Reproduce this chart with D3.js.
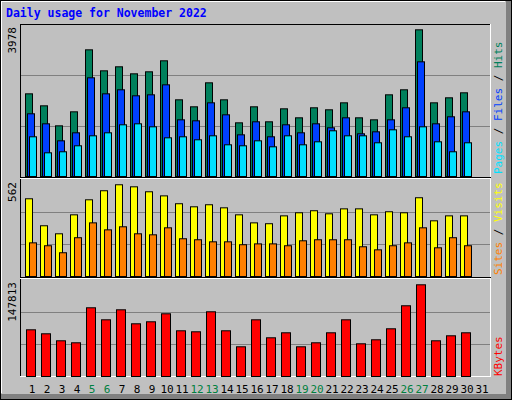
<!DOCTYPE html>
<html><head><meta charset="utf-8">
<script src="https://cdn.jsdelivr.net/npm/d3@7"></script>
<style>body{margin:0;background:#fff}</style></head><body>
<script>
const days = d3.range(1, 32);
const weekendDays = [5,6,12,13,19,20,26,27];
const hits  = [2178,1862,1335,1704,3337,2784,2890,2705,2758,3048,2020,1836,2468,2020,1414,1836,1441,1783,1546,1810,1757,1941,1546,1493,2152,2284,3864,1941,2073,2205];
const files = [1652,1388,940,1151,2600,2178,2284,2126,2152,2415,1493,1467,1941,1625,1098,1441,1046,1362,1151,1388,1283,1546,1125,1177,1493,1810,3021,1388,1573,1704];
const pages = [1046,624,651,809,1072,1151,1362,1388,1309,1019,1046,967,1072,835,809,940,782,1072,835,914,1204,1072,1072,888,1230,1046,1309,914,651,888];
const visits = [455,297,250,361,449,502,537,525,496,472,426,408,420,402,361,314,309,355,373,385,367,396,396,361,379,373,461,326,355,355];
const sites  = [197,180,139,227,314,273,291,250,244,285,221,215,203,203,186,191,191,180,209,215,215,215,174,156,180,197,285,168,227,180];
const kbytes = [71900,65760,54980,51900,105800,87300,102700,81160,84240,96560,70380,68840,99640,70380,45740,87300,59600,67300,45740,51900,67300,87300,50360,56520,73460,108900,141200,54980,62680,67300];
const maxHits = 3978, maxVisits = 562, maxKB = 147813;

const W=512,H=400;
const svg=d3.select("body").append("svg").attr("width",W).attr("height",H);
const font="DejaVu Sans Mono";
svg.append("rect").attr("x",0).attr("y",0).attr("width",W).attr("height",H).attr("fill","#c0c0c0");
svg.append("rect").attr("x",506).attr("y",1).attr("width",5).attr("height",H-2).attr("fill","#808080");
svg.append("rect").attr("x",1).attr("y",394).attr("width",W-2).attr("height",5).attr("fill","#808080");
svg.append("rect").attr("x",0.5).attr("y",0.5).attr("width",W-1).attr("height",H-1).attr("fill","none").attr("stroke","#000");
svg.append("line").attr("x1",1).attr("y1",1.5).attr("x2",505).attr("y2",1.5).attr("stroke","#fff");
svg.append("line").attr("x1",1.5).attr("y1",1).attr("x2",1.5).attr("y2",393).attr("stroke","#fff");

svg.append("text").attr("x",6).attr("y",17).attr("font-family",font).attr("font-weight","bold")
  .attr("font-size",11.5).attr("fill","#0000ff").text("Daily usage for November 2022");

const x = d3.scaleBand().domain(days).range([25,490]).paddingInner(0).paddingOuter(0);
// step = 15
const panels=[{top:25,bot:176},{top:180,bot:276},{top:280,bot:376}];

// panel frame
svg.append("rect").attr("x",20).attr("y",25).attr("width",471).attr("height",352).attr("fill","#c0c0c0");
panels.forEach(p=>{
  for(let k=1;k<=2;k++){
    const y=Math.round(p.bot-(p.bot-p.top)*k/3)+0.5;
    svg.append("line").attr("x1",21).attr("x2",490).attr("y1",y).attr("y2",y).attr("stroke","#808080");
  }
});
svg.append("line").attr("x1",20).attr("x2",491).attr("y1",24.5).attr("y2",24.5).attr("stroke","#000");
svg.append("line").attr("x1",20.5).attr("x2",20.5).attr("y1",24).attr("y2",377).attr("stroke","#000");
svg.append("line").attr("x1",490.5).attr("x2",490.5).attr("y1",24).attr("y2",377).attr("stroke","#fff");
svg.append("line").attr("x1",20).attr("x2",491).attr("y1",376.5).attr("y2",376.5).attr("stroke","#fff");
[178.5,278.5].forEach(y=>{
  svg.append("line").attr("x1",20).attr("x2",491).attr("y1",y).attr("y2",y).attr("stroke","#fff");
  svg.append("line").attr("x1",20).attr("x2",491).attr("y1",y-1).attr("y2",y-1).attr("stroke","#000");
});

function bars(data,max,p,off,w,color){
  const y=d3.scaleLinear().domain([0,max]).range([p.bot,p.top]);
  svg.append("g").selectAll("rect").data(data).join("rect")
    .attr("x",(d,i)=>x(i+1)+off+0.5).attr("y",d=>y(d)+0.5)
    .attr("width",w).attr("height",d=>p.bot-y(d))
    .attr("fill",color).attr("stroke","#000");
}
bars(hits,maxHits,panels[0],0,7,"#00805c");
bars(files,maxHits,panels[0],2,7,"#0040ff");
bars(pages,maxHits,panels[0],4,7,"#00e0ff");
bars(visits,maxVisits,panels[1],0,7,"#ffff00");
bars(sites,maxVisits,panels[1],4,7,"#ff8000");
bars(kbytes,maxKB,panels[2],1,9,"#ff0000");

// max labels
[[maxHits,27],[maxVisits,182],[maxKB,282]].forEach(([v,y])=>{
  svg.append("text").attr("transform",`translate(16,${y}) rotate(-90)`).attr("text-anchor","end")
    .attr("font-family",font).attr("font-size",11).attr("fill","#000").text(v);
});
// right legends
function legend(parts,yBottom){
  const t=svg.append("text").attr("transform",`translate(502,${yBottom}) rotate(-90)`)
    .attr("font-family",font).attr("font-size",11);
  parts.forEach(([s,c])=>t.append("tspan").attr("fill",c).text(s));
}
legend([["Pages","#00e0ff"],[" / ","#000"],["Files","#0040ff"],[" / ","#000"],["Hits","#00805c"]],174);
legend([["Sites","#ff8000"],[" / ","#000"],["Visits","#ffff00"]],275);
legend([["KBytes","#ff0000"]],376);

// day labels
svg.append("g").selectAll("text").data(days).join("text")
  .attr("x",d=>x(d)+x.bandwidth()/2-0.5).attr("y",393).attr("text-anchor","middle")
  .attr("font-family",font).attr("font-size",11)
  .attr("fill",d=>weekendDays.includes(d)?"#008040":"#000").text(d=>d);
</script></body></html>
